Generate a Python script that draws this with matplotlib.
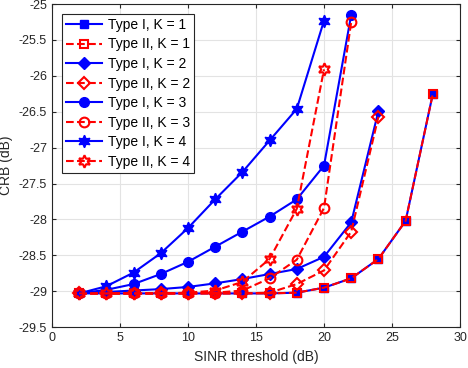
import matplotlib
matplotlib.use('Agg')
import matplotlib.pyplot as plt
import numpy as np

plt.rcParams['font.family'] = ['Liberation Sans', 'DejaVu Sans']

# SINR thresholds (dB) per curve
x_k1 = [2, 4, 6, 8, 10, 12, 14, 16, 18, 20, 22, 24, 26, 28]
x_k2 = [2, 4, 6, 8, 10, 12, 14, 16, 18, 20, 22, 24]
x_k3 = [2, 4, 6, 8, 10, 12, 14, 16, 18, 20, 22]
x_k4 = [2, 4, 6, 8, 10, 12, 14, 16, 18, 20]

# CRB (dB)
t1_k1 = [-29.03, -29.03, -29.03, -29.03, -29.03, -29.03, -29.03, -29.03, -29.02, -28.95, -28.82, -28.55, -28.02, -26.25]
t2_k1 = [-29.03, -29.03, -29.03, -29.03, -29.03, -29.03, -29.03, -29.03, -29.02, -28.95, -28.82, -28.55, -28.02, -26.25]
t1_k2 = [-29.03, -29.01, -28.99, -28.97, -28.94, -28.89, -28.83, -28.76, -28.69, -28.52, -28.04, -26.49]
t2_k2 = [-29.03, -29.03, -29.03, -29.03, -29.03, -29.03, -29.03, -29.02, -28.9, -28.71, -28.17, -26.57]
t1_k3 = [-29.03, -28.98, -28.9, -28.76, -28.59, -28.38, -28.17, -27.96, -27.72, -27.25, -25.15]
t2_k3 = [-29.03, -29.03, -29.03, -29.03, -29.03, -29.02, -28.99, -28.82, -28.56, -27.84, -25.25]
t1_k4 = [-29.03, -28.93, -28.74, -28.47, -28.12, -27.72, -27.34, -26.9, -26.46, -25.23]
t2_k4 = [-29.03, -29.03, -29.03, -29.03, -29.02, -28.99, -28.87, -28.55, -27.85, -25.91]

star = (6, 1, 0)

fig = plt.figure(figsize=(4.68, 3.68), dpi=100)
ax = fig.add_axes([0.111, 0.111, 0.872, 0.878])

ax.plot(x_k1, t1_k1, '-', color='b', lw=1.5, marker='s', ms=6, mfc='b', label='Type I, K = 1')
ax.plot(x_k1, t2_k1, '--', color='r', lw=1.5, marker='s', ms=6, mfc='none', mew=1.5, label='Type II, K = 1')
ax.plot(x_k2, t1_k2, '-', color='b', lw=1.5, marker='D', ms=6, mfc='b', label='Type I, K = 2')
ax.plot(x_k2, t2_k2, '--', color='r', lw=1.5, marker='D', ms=6, mfc='none', mew=1.5, label='Type II, K = 2')
ax.plot(x_k3, t1_k3, '-', color='b', lw=1.5, marker='o', ms=7, mfc='b', label='Type I, K = 3')
ax.plot(x_k3, t2_k3, '--', color='r', lw=1.5, marker='o', ms=7, mfc='none', mew=1.5, label='Type II, K = 3')
ax.plot(x_k4, t1_k4, '-', color='b', lw=1.5, marker=star, ms=9, mfc='b', label='Type I, K = 4')
ax.plot(x_k4, t2_k4, '--', color='r', lw=1.5, marker=star, ms=9, mfc='none', mew=1.5, label='Type II, K = 4')

ax.set_xlim(0, 30)
ax.set_ylim(-29.5, -25)
ax.set_xticks(np.arange(0, 31, 5))
ax.set_yticks(np.arange(-29.5, -24.9, 0.5))
ax.set_yticklabels(['-29.5', '-29', '-28.5', '-28', '-27.5', '-27', '-26.5', '-26', '-25.5', '-25'])
ax.grid(True, color='#e3e3e3', lw=0.8)
ax.set_axisbelow(True)
ax.tick_params(direction='in', labelsize=9, colors='#262626', top=True, right=True, length=3)
for s in ax.spines.values():
    s.set_color('#262626')
    s.set_linewidth(0.8)
ax.set_xlabel('SINR threshold (dB)', fontsize=10, color='#262626')
ax.set_ylabel('CRB (dB)', fontsize=10, color='#262626')

leg = ax.legend(loc='upper left', fontsize=10, fancybox=False, framealpha=1,
                edgecolor='#262626', handlelength=2.6, borderaxespad=0.7,
                labelspacing=0.4, borderpad=0.3, handletextpad=0.4)
leg.get_frame().set_linewidth(0.8)

fig.savefig('out.png', dpi=100)
